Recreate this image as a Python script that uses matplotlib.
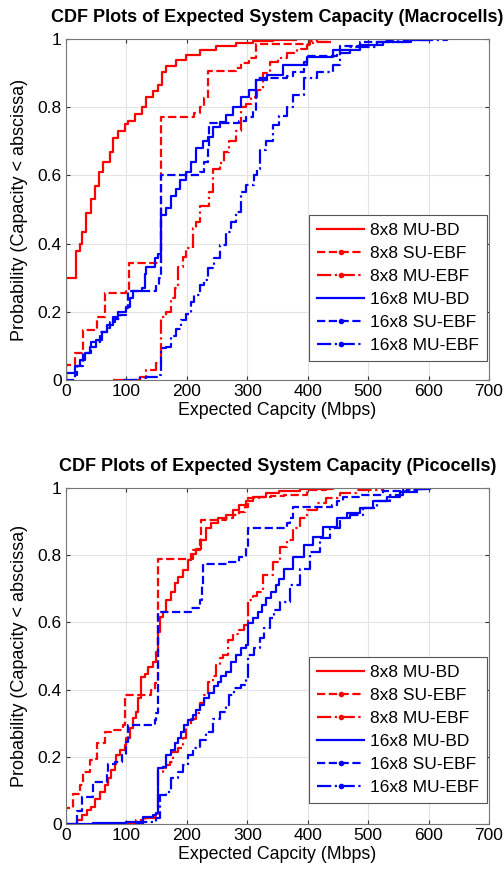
import matplotlib
matplotlib.use("Agg")
import matplotlib.pyplot as plt
from matplotlib.lines import Line2D

plt.rcParams['font.family'] = ['Liberation Sans', 'DejaVu Sans']

labels = ["8x8 MU-BD", "8x8 SU-EBF", "8x8 MU-EBF",
          "16x8 MU-BD", "16x8 SU-EBF", "16x8 MU-EBF"]
xticks = [0, 100, 200, 300, 400, 500, 600, 700]
yticks = [0, 0.2, 0.4, 0.6, 0.8, 1]

# ---- Macrocells (step corners) ----
mac_8_mubd_x = [0, 0, 16.5, 23, 26, 33, 42, 48, 55, 61.5, 72.5, 78, 86, 97, 103, 114, 125, 133, 144,
                152, 158, 166, 182, 199, 221, 248, 281, 309, 342, 380, 430]
mac_8_mubd_y = [0, 0.30, 0.378, 0.40, 0.435, 0.49, 0.53, 0.57, 0.61, 0.64, 0.67, 0.71, 0.73, 0.75, 0.76,
                0.78, 0.80, 0.83, 0.846, 0.865, 0.904, 0.92, 0.938, 0.953, 0.968, 0.978, 0.987, 0.994,
                0.997, 0.999, 1.0]

mac_8_suebf_x = [0, 0, 15, 28.5, 50.5, 64, 100, 104, 156.6, 212.6, 221, 229, 234.6, 281, 290, 303, 314,
                 360, 404, 415]
mac_8_suebf_y = [0, 0.044, 0.078, 0.147, 0.186, 0.254, 0.264, 0.344, 0.772, 0.782, 0.80, 0.826, 0.906,
                 0.914, 0.929, 0.943, 0.984, 0.986, 0.995, 1.0]

mac_8_muebf_x = [78, 122, 133, 149, 156.6, 166, 174, 180, 185, 193, 199, 210, 215, 221, 237, 243, 254,
                 262, 270, 281, 290, 298, 306, 316, 326, 337, 350, 365, 383, 398, 409, 440]
mac_8_muebf_y = [0, 0.01, 0.03, 0.05, 0.186, 0.20, 0.24, 0.27, 0.33, 0.36, 0.386, 0.445, 0.464, 0.51,
                 0.55, 0.62, 0.635, 0.67, 0.70, 0.73, 0.80, 0.81, 0.83, 0.85, 0.90, 0.933, 0.945, 0.958,
                 0.97, 0.982, 0.99, 1.0]

mac_16_mubd_x = [0, 0, 15, 23, 31, 39.5, 50, 59, 67, 78, 86, 100, 105.5, 111, 125, 130, 133, 147, 152,
                 156.6, 166, 174, 182, 188, 199, 207, 215, 226, 234.6, 243, 254, 265, 276, 290, 303, 314,
                 332, 359, 398, 442, 486, 525, 571, 600]
mac_16_mubd_y = [0, 0.022, 0.04, 0.06, 0.078, 0.098, 0.117, 0.142, 0.16, 0.186, 0.20, 0.215, 0.24, 0.26,
                 0.27, 0.31, 0.33, 0.357, 0.37, 0.484, 0.503, 0.54, 0.56, 0.587, 0.61, 0.64, 0.68, 0.70,
                 0.714, 0.743, 0.758, 0.777, 0.80, 0.83, 0.85, 0.88, 0.894, 0.924, 0.948, 0.968, 0.982,
                 0.992, 0.997, 1.0]

mac_16_suebf_x = [0, 15, 17.6, 28.5, 42, 56, 67, 72.5, 81, 89, 100, 103, 149, 154, 156.6, 221, 229,
                  234.6, 236, 287, 298, 309, 314, 365, 376, 393, 399, 448, 453, 486, 525, 550]
mac_16_suebf_y = [0, 0.015, 0.04, 0.078, 0.112, 0.142, 0.152, 0.17, 0.18, 0.19, 0.21, 0.26, 0.28, 0.30,
                  0.60, 0.61, 0.64, 0.68, 0.753, 0.76, 0.772, 0.79, 0.885, 0.89, 0.904, 0.933, 0.95,
                  0.96, 0.978, 0.99, 0.997, 1.0]

mac_16_muebf_x = [94.5, 116, 133, 155, 156.6, 166, 174, 182, 190.6, 199, 207, 212.6, 221, 229, 234.6,
                  245.6, 254, 265, 273, 281, 290, 298, 311.5, 316, 321, 331, 342, 353, 365, 376, 393,
                  415, 442, 453, 470, 514, 560, 630]
mac_16_muebf_y = [0, 0.005, 0.01, 0.015, 0.093, 0.098, 0.13, 0.15, 0.176, 0.195, 0.23, 0.25, 0.28,
                  0.293, 0.327, 0.357, 0.396, 0.435, 0.464, 0.494, 0.552, 0.572, 0.60, 0.62, 0.674,
                  0.70, 0.748, 0.775, 0.80, 0.836, 0.885, 0.904, 0.924, 0.958, 0.977, 0.99, 0.997, 1.0]

# ---- Picocells ----
pic_8_mubd_x = [0, 12, 17.6, 26, 34, 42, 48, 56, 64, 70, 75, 81, 83.5, 89, 97, 100, 105.5, 111, 116.5,
                119, 123.6, 124.7, 130, 136, 144, 149, 152, 155, 160, 166, 174, 180, 185, 193, 201.6,
                207, 215, 223.6, 232, 240, 251, 265, 276, 287, 298, 309, 331, 353, 387, 442]
pic_8_mubd_y = [0, 0, 0.012, 0.027, 0.042, 0.052, 0.076, 0.096, 0.116, 0.136, 0.16, 0.18, 0.205, 0.22,
                0.235, 0.255, 0.285, 0.315, 0.334, 0.374, 0.404, 0.438, 0.448, 0.468, 0.483, 0.513,
                0.572, 0.617, 0.632, 0.667, 0.69, 0.716, 0.736, 0.756, 0.786, 0.805, 0.82, 0.845, 0.88,
                0.895, 0.91, 0.92, 0.934, 0.95, 0.96, 0.974, 0.984, 0.99, 0.997, 1.0]

pic_8_suebf_x = [0, 0, 12, 23, 28.5, 39.5, 48, 50.5, 64, 75, 94.5, 98, 141, 146.7, 152, 210, 221, 223.6,
                 265, 276, 287, 296, 300.5, 320, 340, 360, 398, 430]
pic_8_suebf_y = [0, 0.047, 0.09, 0.116, 0.156, 0.19, 0.195, 0.24, 0.275, 0.28, 0.295, 0.384, 0.40, 0.42,
                 0.79, 0.815, 0.845, 0.905, 0.91, 0.92, 0.93, 0.944, 0.97, 0.972, 0.975, 0.979, 0.994,
                 1.0]

pic_8_muebf_x = [100, 116.5, 130, 146.7, 152, 160, 166, 171.4, 177, 185, 193, 199, 207, 215, 221, 229,
                 234.6, 243, 248, 254, 259, 267.6, 276, 287, 295, 300.5, 309, 316, 326, 343, 354, 365,
                 376, 387, 398, 415, 431, 453, 481, 525]
pic_8_muebf_y = [0, 0.012, 0.017, 0.022, 0.156, 0.166, 0.176, 0.186, 0.215, 0.225, 0.255, 0.295,
                 0.314, 0.33, 0.36, 0.384, 0.424, 0.44, 0.473, 0.493, 0.503, 0.548, 0.567, 0.577,
                 0.592, 0.667, 0.68, 0.69, 0.74, 0.78, 0.825, 0.845, 0.88, 0.91, 0.935, 0.955, 0.97,
                 0.985, 0.994, 1.0]

pic_16_mubd_x = [12, 45, 100, 127.5, 144, 149, 152, 160, 166, 174, 180, 185, 191, 196, 201.6, 210, 215,
                 221, 229, 237, 245.6, 251, 257, 265, 273, 281, 290, 298, 300.5, 309, 317, 325, 331,
                 339, 347, 353, 360, 376, 393, 409, 425.6, 448, 464.5, 486.5, 508, 530.7, 552.7, 580,
                 602]
pic_16_mubd_y = [0, 0.002, 0.007, 0.022, 0.027, 0.032, 0.166, 0.17, 0.205, 0.22, 0.24, 0.255, 0.275,
                 0.295, 0.31, 0.324, 0.34, 0.354, 0.374, 0.39, 0.41, 0.424, 0.44, 0.453, 0.483, 0.503,
                 0.523, 0.533, 0.597, 0.612, 0.632, 0.652, 0.672, 0.69, 0.71, 0.728, 0.76, 0.795, 0.83,
                 0.855, 0.885, 0.91, 0.925, 0.94, 0.96, 0.974, 0.989, 0.998, 1.0]

pic_16_suebf_x = [0, 12, 17.6, 26, 45, 67, 70, 81, 92, 100, 103, 146.7, 149, 152, 207, 221, 225, 226,
                  270, 287, 298, 300.5, 365, 371, 376, 440, 448, 459, 486.5, 525, 564, 590]
pic_16_suebf_y = [0, 0, 0.04, 0.08, 0.126, 0.146, 0.18, 0.186, 0.205, 0.245, 0.295, 0.31, 0.33, 0.632,
                  0.642, 0.667, 0.71, 0.773, 0.779, 0.795, 0.825, 0.88, 0.895, 0.91, 0.944, 0.95, 0.96,
                  0.974, 0.979, 0.99, 0.997, 1.0]

pic_16_muebf_x = [114, 127.5, 149, 155, 166, 174, 185, 193, 201.6, 210, 221, 232, 243, 254, 265, 270,
                  278.6, 290, 298, 301.6, 311.5, 321, 328, 337.6, 344.5, 354, 370.7, 387, 404, 420, 437,
                  453, 470, 492, 514, 536, 558, 580, 600]
pic_16_muebf_y = [0, 0.005, 0.017, 0.086, 0.096, 0.136, 0.156, 0.176, 0.205, 0.225, 0.25, 0.275, 0.314,
                  0.334, 0.354, 0.384, 0.404, 0.414, 0.434, 0.503, 0.523, 0.553, 0.582, 0.613, 0.637,
                  0.66, 0.71, 0.76, 0.81, 0.85, 0.88, 0.91, 0.92, 0.94, 0.96, 0.979, 0.994, 0.998, 1.0]

colors = ['red', 'red', 'red', 'blue', 'blue', 'blue']
styles = ['-', '--', '-.', '-', '--', '-.']
markers = ['', '.', '.', '', '.', '.']


def draw_panel(ax, curves, title, anchor):
    for (cx, cy), c, ls in zip(curves, colors, styles):
        ax.plot(cx, cy, color=c, ls=ls, lw=1.6, drawstyle='steps-post')
    ax.set_xlim(0, 700)
    ax.set_ylim(0, 1)
    ax.set_xticks(xticks)
    ax.set_yticks(yticks)
    ax.set_yticklabels(["0", "0.2", "0.4", "0.6", "0.8", "1"])
    ax.grid(True, color='#e3e3e3', lw=0.8)
    ax.set_axisbelow(True)
    ax.tick_params(direction='in', length=3, top=True, right=True, labelsize=12.5, pad=3,
                   color='#333333')
    for sp in ax.spines.values():
        sp.set_color('#777777')
        sp.set_linewidth(0.8)
    ax.set_title(title, fontsize=13, fontweight='bold', pad=12)
    ax.set_xlabel("Expected Capcity (Mbps)", fontsize=12.8, labelpad=2)
    ax.set_ylabel("Probability (Capacity < abscissa)", fontsize=13, labelpad=7)
    handles = [Line2D([], [], color=c, ls=ls, lw=1.6, marker=m, markersize=6)
               for c, ls, m in zip(colors, styles, markers)]
    leg = ax.legend(handles, labels, loc='lower right', bbox_to_anchor=anchor, borderaxespad=0,
                    fontsize=12.5, handlelength=2.7, handletextpad=0.35, labelspacing=0.45,
                    borderpad=0.45, numpoints=1, fancybox=False, framealpha=1)
    leg.get_frame().set_edgecolor('#555555')
    leg.get_frame().set_linewidth(0.8)


fig = plt.figure(figsize=(5.04, 8.72), dpi=100)
ax1 = fig.add_axes([0.131, 0.5642, 0.8393, 0.3911])
ax2 = fig.add_axes([0.131, 0.0550, 0.8393, 0.3853])

mac = [(mac_8_mubd_x, mac_8_mubd_y), (mac_8_suebf_x, mac_8_suebf_y), (mac_8_muebf_x, mac_8_muebf_y),
       (mac_16_mubd_x, mac_16_mubd_y), (mac_16_suebf_x, mac_16_suebf_y),
       (mac_16_muebf_x, mac_16_muebf_y)]
pic = [(pic_8_mubd_x, pic_8_mubd_y), (pic_8_suebf_x, pic_8_suebf_y), (pic_8_muebf_x, pic_8_muebf_y),
       (pic_16_mubd_x, pic_16_mubd_y), (pic_16_suebf_x, pic_16_suebf_y),
       (pic_16_muebf_x, pic_16_muebf_y)]

draw_panel(ax1, mac, "CDF Plots of Expected System Capacity (Macrocells)", (0.9946, 0.0557))
draw_panel(ax2, pic, "CDF Plots of Expected System Capacity (Picocells)", (0.9946, 0.0625))

fig.savefig("out.png", dpi=100)
